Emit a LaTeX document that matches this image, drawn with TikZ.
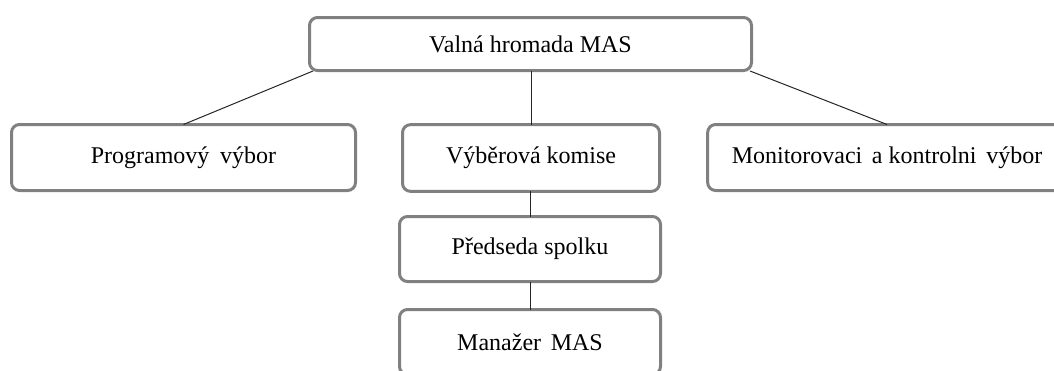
\documentclass[tikz,border=0pt]{standalone}
\usepackage{fontspec}
\setmainfont{Liberation Serif}
\usetikzlibrary{calc}
\definecolor{boxgray}{RGB}{128,128,128}
\tikzset{
  orgbox/.style={draw=boxgray, line width=2.25pt, rounded corners=6pt, fill=white,
    inner sep=0pt, outer sep=0pt, font=\fontsize{18}{21}\selectfont},
  link/.style={draw=black!85, line width=0.75pt}
}
\begin{document}
\begin{tikzpicture}[x=0.75pt, y=-0.75pt]
\useasboundingbox (0,0) rectangle (1054,371);
\clip (0,0) rectangle (1054,371);
\coordinate (topL) at (313,71);
\coordinate (topR) at (750,71);
\node[orgbox, minimum width=331.5pt, minimum height=39.75pt] (top) at (530.5,44) {Valná hromada MAS};
\node[orgbox, minimum width=258pt, minimum height=49.5pt] (prog) at (183.5,157.5) {Programový\hspace{0.45em}výbor};
\node[orgbox, minimum width=192.75pt, minimum height=50pt] (vyber) at (531,158) {Výběrová komise};
\node[orgbox, minimum width=269pt, minimum height=49.5pt] (mon) at (887,157.5) {Monitorovaci\hspace{0.4em}a kontrolni\hspace{0.4em}výbor};
\node[orgbox, minimum width=195.75pt, minimum height=48.75pt] (pred) at (530,249) {Předseda spolku};
\node[orgbox, minimum width=195.75pt, minimum height=48.75pt] (man) at (530,342) {Manažer\hspace{0.4em}MAS};
\draw[link] (top.south -| vyber.north) -- (vyber.north);
\draw[link] (topL) -- (prog.north);
\draw[link] (topR) -- (mon.north);
\draw[link] (vyber.south -| pred.north) -- (pred.north);
\draw[link] (pred.south) -- (man.north);
\end{tikzpicture}
\end{document}
